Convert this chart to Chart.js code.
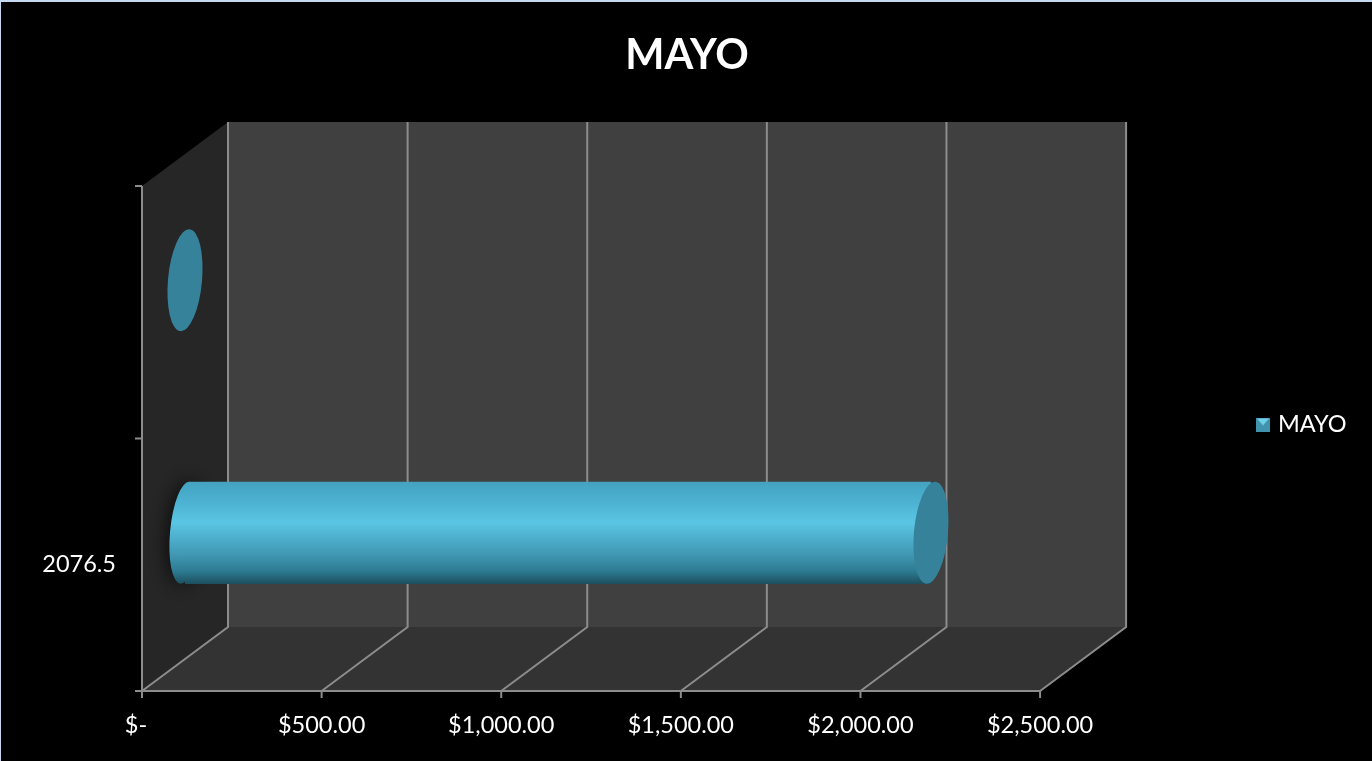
<!DOCTYPE html>
<html>

<head>
    <title>MAYO</title>
    <style>
        html, body {
            margin: 0;
            padding: 0;
            background: #c6d9f1;
            overflow: hidden;
        }

        .chart {
            position: absolute;
            left: 1px;
            top: 2px;
            width: 1371px;
            height: 759px;
            background: #000;
        }
    </style>
</head>

<body>
    <div class="chart">
        <canvas id="mayoChart"></canvas>
    </div>

    <script src="https://cdn.jsdelivr.net/npm/chart.js"></script>
    <script>
        var categories = ['2076.5', ''];
        var mayoValues = [2076.5, 0];
        var xTickLabels = ['$-  ', '$500.00', '$1,000.00', '$1,500.00', '$2,000.00', '$2,500.00'];

        // fake 3D depth of the box, in pixels
        var depthX = 86;
        var depthY = -64;
        var tilt = 0.09;
        var capRx = 17;
        var baseRx = 15;

        var gridColor = '#8c8c8c';

        function barBox(chart, index) {
            var meta = chart.getDatasetMeta(0);
            var bar = meta.data[index];
            var half = bar.height / 2;
            return {
                left: chart.scales.x.getPixelForValue(0) + depthX / 2,
                right: chart.scales.x.getPixelForValue(mayoValues[index]) + depthX / 2,
                cy: bar.y + depthY / 2,
                half: half
            };
        }

        function barGradient(c, top, bottom) {
            var g = c.createLinearGradient(0, top, 0, bottom);
            g.addColorStop(0, '#43a3c1');
            g.addColorStop(0.18, '#4cb0d0');
            g.addColorStop(0.4, '#5ac5e4');
            g.addColorStop(0.72, '#4097b2');
            g.addColorStop(0.88, '#2c7a90');
            g.addColorStop(1, '#1d4f5f');
            return g;
        }

        var box3d = {
            id: 'box3d',
            beforeDatasetsDraw: function (chart) {
                var c = chart.ctx;
                var a = chart.chartArea;
                var xs = chart.scales.x;

                // walls
                c.save();
                c.fillStyle = '#404040';
                c.fillRect(a.left + depthX, a.top + depthY, a.right - a.left, a.bottom - a.top);
                c.fillStyle = '#262626';
                c.beginPath();
                c.moveTo(a.left, a.top);
                c.lineTo(a.left + depthX, a.top + depthY);
                c.lineTo(a.left + depthX, a.bottom + depthY);
                c.lineTo(a.left, a.bottom);
                c.closePath();
                c.fill();
                c.fillStyle = '#333333';
                c.beginPath();
                c.moveTo(a.left, a.bottom);
                c.lineTo(a.left + depthX, a.bottom + depthY);
                c.lineTo(a.right + depthX, a.bottom + depthY);
                c.lineTo(a.right, a.bottom);
                c.closePath();
                c.fill();

                // gridlines on back wall and floor
                c.strokeStyle = gridColor;
                c.lineWidth = 2;
                xs.ticks.forEach(function (t, i) {
                    var x = xs.getPixelForTick(i);
                    c.beginPath();
                    c.moveTo(x, a.bottom);
                    c.lineTo(x + depthX, a.bottom + depthY);
                    c.lineTo(x + depthX, a.top + depthY);
                    c.stroke();
                    // tick marks
                    c.beginPath();
                    c.moveTo(x, a.bottom);
                    c.lineTo(x, a.bottom + 7);
                    c.stroke();
                });

                // axis lines
                c.beginPath();
                c.moveTo(a.left, a.top);
                c.lineTo(a.left, a.bottom);
                c.moveTo(a.left, a.bottom);
                c.lineTo(a.right, a.bottom);
                [a.top, (a.top + a.bottom) / 2, a.bottom].forEach(function (y) {
                    c.moveTo(a.left - 7, y);
                    c.lineTo(a.left, y);
                });
                c.stroke();

                // round end of the bar, with its shadow on the side wall
                var b = barBox(chart, 0);
                c.save();
                c.shadowColor = 'rgba(0,0,0,0.9)';
                c.shadowBlur = 22;
                c.fillStyle = barGradient(c, b.cy - b.half, b.cy + b.half);
                c.beginPath();
                c.ellipse(b.left, b.cy, baseRx, b.half, tilt, 0, Math.PI * 2);
                c.fill();
                c.restore();
                c.restore();
            },
            beforeDatasetDraw: function (chart) {
                var c = chart.ctx;
                var b = barBox(chart, 0);
                var shift = tilt * (b.half - baseRx * baseRx / b.half);
                c.save();
                // cut the square corner of the bar so it meets the round end
                c.beginPath();
                c.moveTo(b.left + shift, b.cy - b.half);
                c.lineTo(b.right + 5, b.cy - b.half);
                c.lineTo(b.right + 5, b.cy + b.half);
                c.lineTo(b.left - shift, b.cy + b.half);
                c.closePath();
                c.clip();
                c.translate(depthX / 2, depthY / 2);
            },
            afterDatasetDraw: function (chart) {
                var c = chart.ctx;
                c.restore();
                mayoValues.forEach(function (v, i) {
                    var b = barBox(chart, i);
                    c.fillStyle = '#36829b';
                    c.beginPath();
                    c.ellipse(b.right, b.cy, capRx, b.half, tilt, 0, Math.PI * 2);
                    c.fill();
                });
            },
            afterLayout: function (chart) {
                // title stays centred on the whole picture, legend sits right of the box
                chart.titleBlock.left = 0;
                chart.titleBlock.right = chart.width + 1;
                var w = chart.legend.right - chart.legend.left;
                chart.legend.left = 1254.75;
                chart.legend.right = 1254.75 + w;
                chart.legend.top += 43;
                chart.legend.bottom += 43;
            }
        };

        // small legend marker, square with a lighter wedge
        function legendMarker() {
            var m = document.createElement('canvas');
            m.width = 14;
            m.height = 14;
            var c = m.getContext('2d');
            c.fillStyle = '#3f93ad';
            c.fillRect(0, 0, 14, 14);
            c.fillStyle = '#6fd0ea';
            c.beginPath();
            c.moveTo(1, 1);
            c.lineTo(13, 1);
            c.lineTo(7, 8);
            c.closePath();
            c.fill();
            return m;
        }

        var chart = new Chart(document.getElementById('mayoChart').getContext('2d'), {
            type: 'bar',
            plugins: [box3d],
            data: {
                labels: categories,
                datasets: [{
                    label: 'MAYO',
                    data: mayoValues,
                    barPercentage: 0.405,
                    categoryPercentage: 1,
                    borderWidth: 0,
                    backgroundColor: function (ctx) {
                        if (!ctx.chart.chartArea) {
                            return '#5ac5e4';
                        }
                        var ys = ctx.chart.scales.y;
                        var y = ys.getPixelForValue(ctx.dataIndex);
                        return barGradient(ctx.chart.ctx, y - 51, y + 51);
                    }
                }]
            },
            options: {
                indexAxis: 'y',
                responsive: true,
                maintainAspectRatio: false,
                animation: false,
                layout: {
                    padding: { top: 0, right: 231, bottom: 0, left: 0 }
                },
                scales: {
                    x: {
                        min: 0,
                        max: 2500,
                        ticks: {
                            stepSize: 500,
                            maxRotation: 0,
                            color: '#ffffff',
                            padding: 12,
                            font: { family: 'Lato', size: 23.5 },
                            callback: function (value, index) {
                                return xTickLabels[index];
                            }
                        },
                        grid: { display: false },
                        border: { display: false },
                        afterFit: function (s) { s.height = 70; }
                    },
                    y: {
                        reverse: true,
                        ticks: {
                            color: '#ffffff',
                            padding: 18,
                            font: { family: 'Lato', size: 23.5 }
                        },
                        grid: { display: false },
                        border: { display: false },
                        afterFit: function (s) { s.width = 141; }
                    }
                },
                plugins: {
                    title: {
                        display: true,
                        text: 'MAYO',
                        color: '#ffffff',
                        font: { family: 'Lato', size: 41.5, weight: 'bold' },
                        padding: { top: 29, bottom: 105.2 }
                    },
                    legend: {
                        position: 'right',
                        labels: {
                            color: '#ffffff',
                            usePointStyle: true,
                            pointStyle: legendMarker(),
                            boxWidth: 6.5,
                            padding: 4,
                            font: { family: 'Lato', size: 23.5 }
                        }
                    },
                    tooltip: { enabled: false }
                }
            }
        });
    </script>
</body>

</html>
